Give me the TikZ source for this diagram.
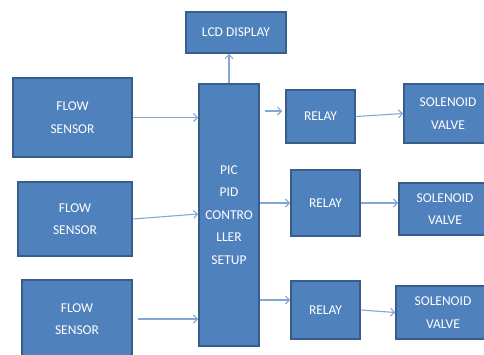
\documentclass[tikz,border=0pt]{standalone}
\usepackage{fontspec}
\setmainfont{Carlito}
\usepackage{tikz}
\usetikzlibrary{arrows.meta,positioning,calc}
\definecolor{boxfill}{RGB}{79,129,189}
\definecolor{boxline}{RGB}{56,93,138}
\definecolor{linkblue}{RGB}{132,167,214}
\tikzset{%
  box/.style={draw=boxline,fill=boxfill,line width=1.5pt,align=center,inner sep=0pt,text=white},
  arrow/.style={-{Straight Barb[length=4pt,width=8pt]}, line width=1.1pt, draw=linkblue}%
}

\begin{document}
\begin{tikzpicture}[
    x=1pt, y=-1pt,
    font=\fontsize{13.5}{22.5}\selectfont,
    sensor/.style={box, minimum width=#1, minimum height=76pt},
    relay/.style={box, minimum width=69pt},
    valve/.style={box, minimum width=#1}
]
\useasboundingbox (0,0) rectangle (484,354);

% Controller and display
\node[box, minimum width=60pt, minimum height=262pt] (pic) at (229,215)
{PIC\\PID\\CONTRO\\LLER\\SETUP};

\node[box, minimum width=100pt, minimum height=41pt] (lcd) at (236,32.5)
{LCD DISPLAY};

% Flow sensors (left column)
\node[sensor=119pt, minimum height=79pt] (flow1) at (72.5,117.5) {FLOW\\SENSOR};
\node[sensor=114pt, minimum height=74pt] (flow2) at (75,219) {FLOW\\SENSOR};
\node[sensor=110pt, minimum height=78pt] (flow3) at (77,319) {FLOW\\SENSOR};

% Relays
\node[relay, minimum height=53pt] (relay1) at (320.5,116.5) {RELAY};
\node[relay, minimum height=66pt] (relay2) at (325.5,203) {RELAY};
\node[relay, minimum height=58pt] (relay3) at (325.5,310) {RELAY};

% Solenoid valves (cut by the right edge)
\node[valve=88pt, minimum height=59pt] (valve1) at (448,113.5) {SOLENOID\\VALVE};
\node[valve=92pt, minimum height=52pt] (valve2) at (445,209) {SOLENOID\\VALVE};
\node[valve=94pt, minimum height=53pt] (valve3) at (443,312.5) {SOLENOID\\VALVE};

% Arrows
\draw[arrow] (flow1.east) -- (flow1.east -| pic.west);
\draw[arrow] (flow2.east) -- ([yshift=5pt]flow2.east -| pic.west);
\draw[arrow, shorten <=5pt] (flow3.east) -- (flow3.east -| pic.west);
\draw[arrow] (pic.north) -- (pic.north |- lcd.south);
\draw[arrow, shorten <=5pt, shorten >=3pt] ([yshift=5.5pt]relay1.west -| pic.east) -- ([yshift=5.5pt]relay1.west);
\draw[arrow] (relay2.west -| pic.east) -- (relay2.west);
\draw[arrow] ([yshift=10pt]relay3.west -| pic.east) -- ([yshift=10pt]relay3.west);
\draw[arrow] (relay1.east) -- (valve1.west);
\draw[arrow] (relay2.east) -- (relay2.east -| valve2.west);
\draw[arrow] (relay3.east) -- (valve3.west);

\end{tikzpicture}
\end{document}
